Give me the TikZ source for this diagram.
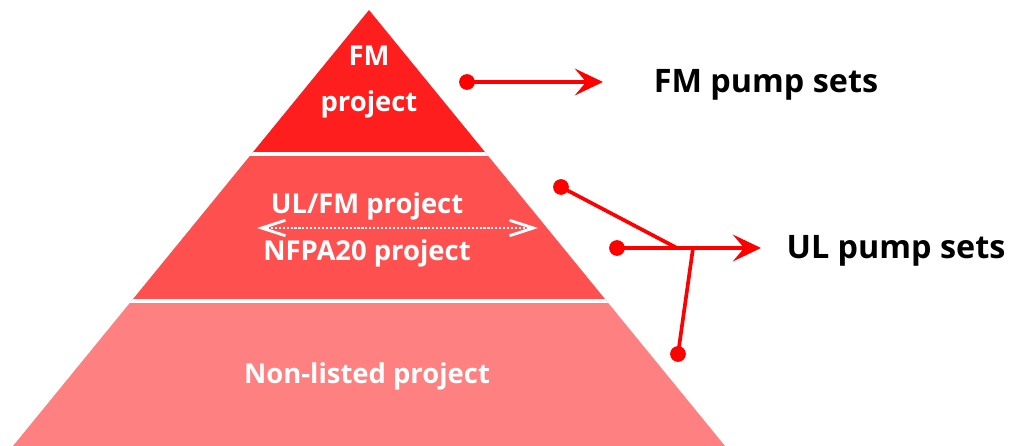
\documentclass[tikz,border=0pt]{standalone}
\usepackage{fontspec}
\setmainfont{Open Sans}
\usetikzlibrary{arrows.meta}
\definecolor{topred}{RGB}{255,30,30}
\definecolor{midred}{RGB}{255,80,80}
\definecolor{lowred}{RGB}{255,128,128}
\tikzset{
  inlabel/.style={text=white, font=\bfseries\fontsize{19.5}{23}\selectfont, anchor=base, inner sep=0pt},
  sidelabel/.style={text=black, font=\bfseries\fontsize{23}{27}\selectfont, anchor=base, inner sep=0pt},
  pumpline/.style={red, line width=2.6pt},
  pumparrow/.style={pumpline, -{Stealth[length=20pt,width=19pt,inset=8pt]}},
  pumpdot/.style={red},
}
\begin{document}
\begin{tikzpicture}[x=0.025cm, y=-0.025cm]
    \useasboundingbox (0,0) rectangle (1011,446);
    % pyramid in three bands
    \begin{scope}
    \clip (369,10) -- (13,446) -- (725,446) -- cycle;
    \fill[topred] (0,0) rectangle (1011,154);
    \fill[midred] (0,154) rectangle (1011,301);
    \fill[lowred] (0,301) rectangle (1011,446);
    \draw[white, line width=2.8pt] (0,154) -- (1011,154);
    \draw[white, line width=2.8pt] (0,301) -- (1011,301);
    \end{scope}
    % labels inside
    \node[inlabel] (fm) at (369,66) {FM};
    \node[inlabel] (fmproject) at (369,112) {project};
    \node[inlabel] (ulfm) at (367,213) {UL/FM project};
    \node[inlabel] (nfpa) at (367,260) {NFPA20 project};
    \node[inlabel] (nonlisted) at (367,383) {Non-listed project};
    \coordinate (leftend) at (257,228);
    \coordinate (rightend) at (538,228);
    \draw[white, line width=2pt, dash pattern=on 1.5pt off 1.3pt,
      {Straight Barb[length=17pt,width=11pt]}-{Straight Barb[length=17pt,width=11pt]}] (leftend) -- (rightend);
    % side labels
    \node[sidelabel] (fmsets) at (766,93) {FM pump sets};
    \node[sidelabel] (ulsets) at (896,258) {UL pump sets};
    % FM connector
    \coordinate (fmdot) at (467,82);
    \coordinate (fmtip) at (603,82);
    \fill[pumpdot] (fmdot) circle (5.6pt);
    \draw[pumparrow] (fmdot) -- (fmtip);
    % UL connectors
    \coordinate (uldota) at (561,187);
    \coordinate (uldotb) at (617,248);
    \coordinate (uldotc) at (678,354);
    \coordinate (uljoin) at (677,248);
    \coordinate (ulfoot) at (693,248);
    \coordinate (ultip) at (761,248);
    \fill[pumpdot] (uldota) circle (5.6pt);
    \fill[pumpdot] (uldotb) circle (5.6pt);
    \fill[pumpdot] (uldotc) circle (5.6pt);
    \draw[pumpline] (uldota) -- (uljoin);
    \draw[pumpline] (ulfoot) -- (uldotc);
    \draw[pumparrow] (uldotb) -- (ultip);
\end{tikzpicture}
\end{document}
